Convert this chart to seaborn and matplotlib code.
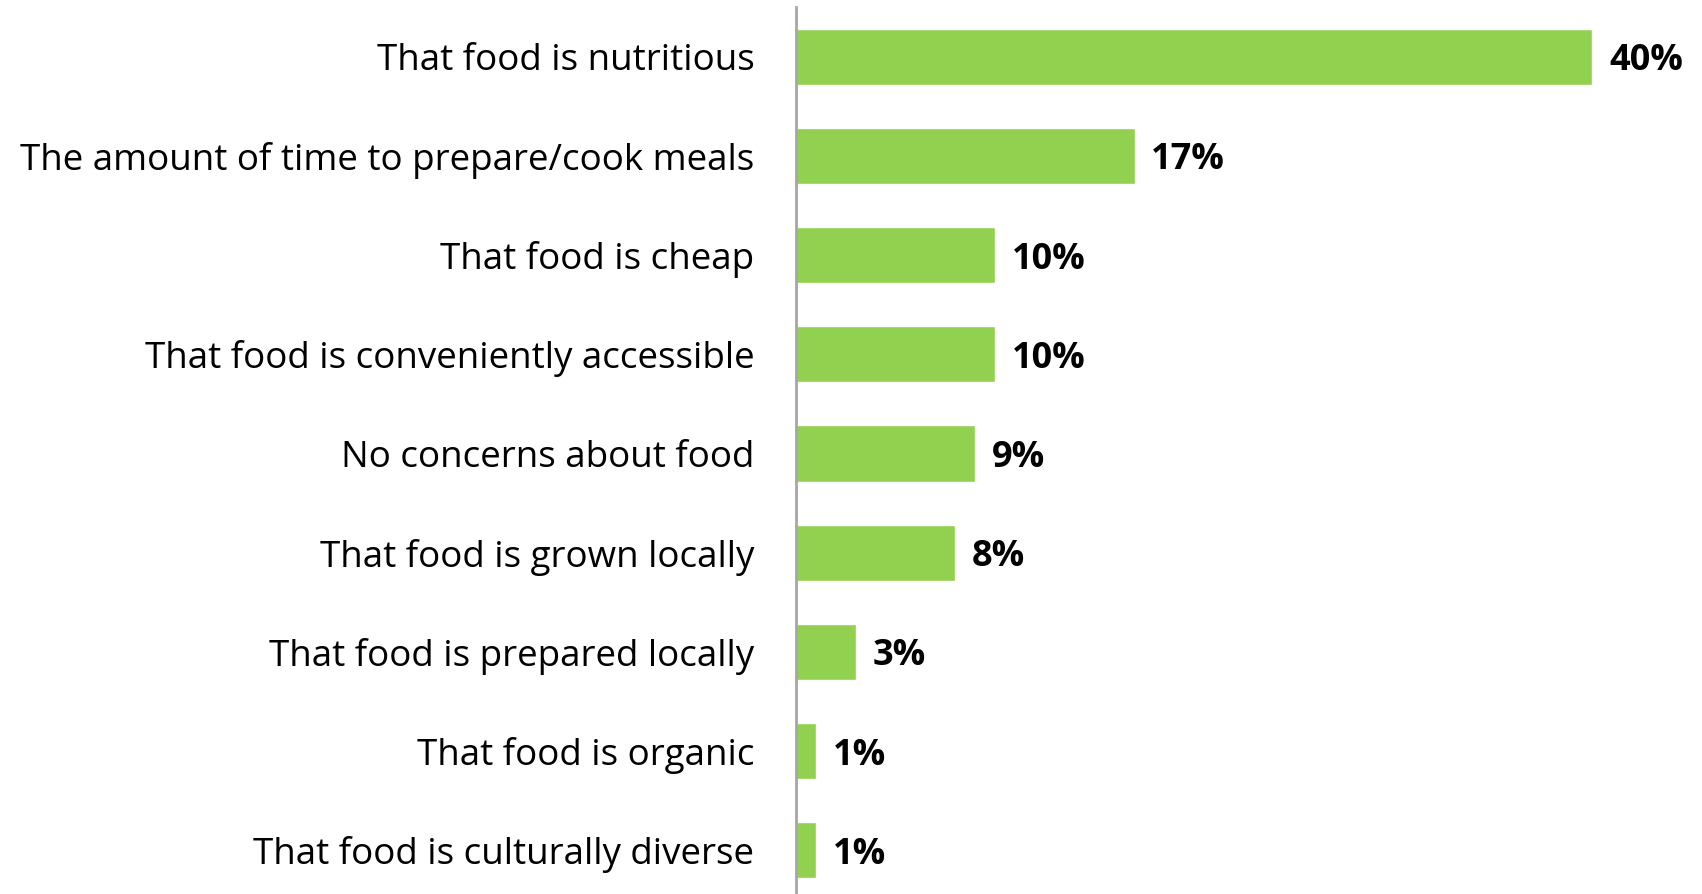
import matplotlib
matplotlib.use("Agg")
import matplotlib.pyplot as plt
import seaborn as sns
import pandas as pd

categories = [
    "That food is nutritious",
    "The amount of time to prepare/cook meals",
    "That food is cheap",
    "That food is conveniently accessible",
    "No concerns about food",
    "That food is grown locally",
    "That food is prepared locally",
    "That food is organic",
    "That food is culturally diverse",
]
values = [40, 17, 10, 10, 9, 8, 3, 1, 1]
value_labels = ["40%", "17%", "10%", "10%", "9%", "8%", "3%", "1%", "1%"]

df = pd.DataFrame({"category": categories, "value": values})

sns.set_theme(style="white")
plt.rcParams["font.family"] = ["Open Sans", "DejaVu Sans"]

W, H = 1702, 894
fig = plt.figure(figsize=(W / 100, H / 100), dpi=100)
ax = fig.add_axes([796 / W, 0, 1 - 796 / W, (894 - 7) / H])

sns.barplot(data=df, x="value", y="category", color="#92D050",
            saturation=1, width=0.565, orient="h", ax=ax)

ax.set_xlim(0, 45.5)
ax.set_ylim(8.44, -0.5)
ax.set_xlabel("")
ax.set_ylabel("")
ax.set_xticks([])

for s in ["top", "right", "bottom"]:
    ax.spines[s].set_visible(False)
ax.spines["left"].set_color("#a6a6a6")
ax.spines["left"].set_linewidth(2)

ax.tick_params(axis="y", length=0, pad=30, labelsize=26.5, labelcolor="black")

for i, (v, lab) in enumerate(zip(values, value_labels)):
    ax.annotate(lab, (v, i), xytext=(12, 0), textcoords="offset points",
                va="center_baseline", ha="left", fontsize=26, fontweight="bold",
                color="black")

fig.savefig("out.png", dpi=100)
